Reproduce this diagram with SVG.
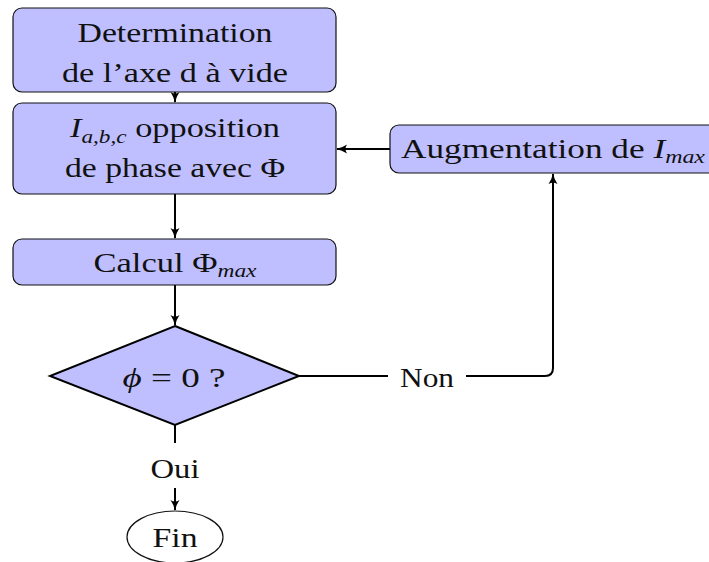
<svg xmlns="http://www.w3.org/2000/svg" width="709" height="562" viewBox="0 0 709 562">
<style>
.box{fill:#bfbfff;stroke:#111;stroke-width:1.2}
.t{font-family:"Liberation Serif","DejaVu Serif",serif;font-size:28px;fill:#111;text-anchor:middle}
.i{font-style:italic}
.s{font-size:19px;font-style:italic}
.c{fill:none;stroke:#000;stroke-width:2}
</style>
<defs>
<marker id="ar" markerUnits="userSpaceOnUse" markerWidth="12" markerHeight="12" viewBox="0 0 12 12" refX="10" refY="6" orient="auto">
<path d="M0,1.5 Q5,5 11,6 Q5,7 0,10.5 Q3,6 0,1.5 z" fill="#000"/>
</marker>
</defs>
<rect width="709" height="562" fill="#fff"/>
<g id="connectors">
<path class="c" d="M175,92 V102" marker-end="url(#ar)"/>
<path class="c" d="M175,194 V238" marker-end="url(#ar)"/>
<path class="c" d="M175,285 V325" marker-end="url(#ar)"/>
<path class="c" d="M175,425 V443"/>
<path class="c" d="M175,488 V510" marker-end="url(#ar)"/>
<path class="c" d="M299,376 H388"/>
<path class="c" d="M466,376 H545 Q553,376 553,368 V174" marker-end="url(#ar)"/>
<path class="c" d="M390,149 H337" marker-end="url(#ar)"/>
<text class="t" x="427" y="387" textLength="54" lengthAdjust="spacingAndGlyphs">Non</text>
<text class="t" x="175" y="478" textLength="49" lengthAdjust="spacingAndGlyphs">Oui</text>
</g>
<g id="n1">
<rect class="box" x="13" y="8" width="323" height="84" rx="9"/>
<text class="t" x="175" y="42" textLength="195" lengthAdjust="spacingAndGlyphs">Determination</text>
<text class="t" x="175" y="82" textLength="226" lengthAdjust="spacingAndGlyphs">de l’axe d à vide</text>
</g>
<g id="n2">
<rect class="box" x="13" y="103" width="323" height="91" rx="9"/>
<text class="t" x="175" y="137" textLength="210" lengthAdjust="spacingAndGlyphs"><tspan class="i">I</tspan><tspan class="s" dy="6">a,b,c</tspan><tspan dy="-6"> opposition</tspan></text>
<text class="t" x="175" y="177" textLength="220" lengthAdjust="spacingAndGlyphs">de phase avec Φ</text>
</g>
<g id="n3">
<rect class="box" x="13" y="239" width="323" height="46" rx="9"/>
<text class="t" x="175" y="272" textLength="163" lengthAdjust="spacingAndGlyphs">Calcul Φ<tspan class="s" dy="5">max</tspan></text>
</g>
<g id="n4">
<rect class="box" x="390" y="125" width="330" height="48" rx="9"/>
<text class="t" x="553" y="158" textLength="304" lengthAdjust="spacingAndGlyphs">Augmentation de <tspan class="i">I</tspan><tspan class="s" dy="5">max</tspan></text>
</g>
<g id="n5">
<polygon points="175,326 299,376 175,425 50,376" fill="#bfbfff" stroke="#000" stroke-width="2"/>
<text class="t" x="174" y="387" textLength="103" lengthAdjust="spacingAndGlyphs"><tspan class="i">ϕ</tspan> = 0  ?</text>
</g>
<g id="n6">
<ellipse cx="175" cy="537" rx="48" ry="26" fill="#fff" stroke="#111" stroke-width="1.2"/>
<text class="t" x="175" y="547" textLength="45" lengthAdjust="spacingAndGlyphs">Fin</text>
</g>
</svg>
